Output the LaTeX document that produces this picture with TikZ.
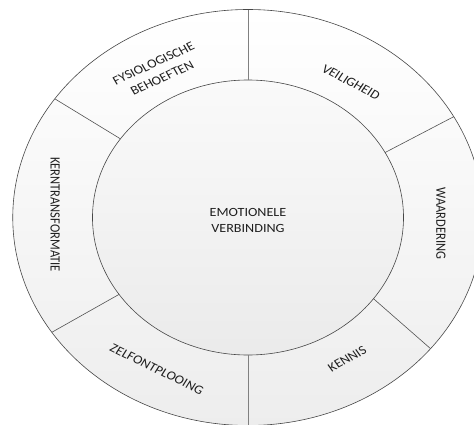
\documentclass[tikz,border=0pt]{standalone}
\usepackage{fontspec}
\setmainfont{Carlito}
\begin{document}
\begin{tikzpicture}[
  ringstyle/.style={circle, draw=black!72, line width=0.6pt, inner sep=0pt, transform shape},
  segline/.style={draw=black!68, line width=0.6pt},
  vline/.style={draw=black!50, line width=0.9pt},
  lbl/.style={font=\fontsize{12.5}{16.5}\selectfont, align=center, text=black!88, transform shape, inner sep=0pt},
]
\useasboundingbox (-248pt,-206.5pt) rectangle (226pt,217.5pt);
\clip (-248pt,-206.5pt) rectangle (226pt,217.5pt);
\begin{scope}[xscale=1.131]
  \node[ringstyle, minimum size=416pt, top color=white, bottom color=black!7] (ring) at (0,0) {};
  \node[ringstyle, minimum size=275pt, top color=black!2, bottom color=black!8] (core) at (0,0) {};
  % divider end points
  \coordinate (i1) at (90:137.5pt);   \coordinate (o1) at (90:208pt);
  \coordinate (i2) at (28.2:137.5pt); \coordinate (o2) at (29:208pt);
  \coordinate (i3) at (-36.2:137.5pt);\coordinate (o3) at (-39.1:208pt);
  \coordinate (i4) at (-90:137.5pt);  \coordinate (o4) at (-90:208pt);
  \coordinate (i5) at (214:137.5pt);  \coordinate (o5) at (213.5:208pt);
  \coordinate (i6) at (145.1:137.5pt);\coordinate (o6) at (145.2:208pt);
  \draw[vline] (i1) -- (o1);
  \draw[segline] (i2) -- (o2);
  \draw[segline] (i3) -- (o3);
  \draw[vline] (i4) -- (o4);
  \draw[segline] (i5) -- (o5);
  \draw[segline] (i6) -- (o6);
  % labels
  \node[lbl] (emo) at (0,-3pt) {EMOTIONELE\\VERBINDING};
  \node[lbl, rotate=27.5] (fys) at (118.5:167pt) {FYSIOLOGISCHE\\BEHOEFTEN};
  \node[lbl, rotate=-31] (veil) at (56:163pt) {VEILIGHEID};
  \node[lbl, rotate=-90] (waard) at (-2:170.7pt) {WAARDERING};
  \node[lbl, rotate=32] (kennis) at (-58.2:166.5pt) {KENNIS};
  \node[lbl, rotate=-29] (zelf) at (-118:171.7pt) {ZELFONTPLOOING};
  \node[lbl, rotate=-90] (kern) at (179:170.6pt) {KERNTRANSFORMATIE};
\end{scope}
\end{tikzpicture}
\end{document}
